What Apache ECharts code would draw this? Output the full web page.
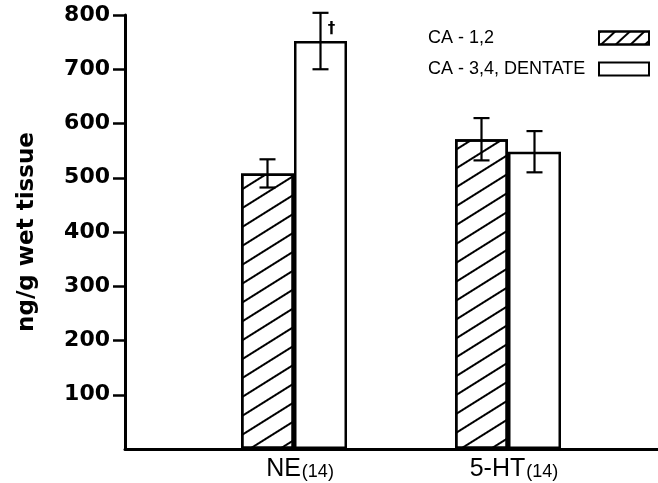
<!DOCTYPE html>
<html>
<head>
<meta charset="utf-8">
<script src="https://cdn.jsdelivr.net/npm/echarts@6/dist/echarts.min.js"></script>
<style>html,body{margin:0;padding:0;background:#fff;}#c{width:658px;height:483px;}</style>
</head>
<body>
<div id="c"></div>
<script>
const categories = ['NE', '5-HT'];
const nCounts = [14, 14];
const seriesNames = ['CA - 1,2', 'CA - 3,4, DENTATE'];
const ca12Mean = [508, 571];
const ca12Err = [26, 39];
const ca34Mean = [752, 548];
const ca34Err = [52, 38];
const ca34Marks = ['\u2020', ''];
const yTicks = [100, 200, 300, 400, 500, 600, 700, 800];
const yAxisName = 'ng/g wet tissue';

const BAR_W = 53;
const hatch = {
  symbol: 'rect', symbolSize: 1, color: '#000', backgroundColor: 'rgba(0,0,0,0)',
  dashArrayX: [1, 0], dashArrayY: [1.8, 14], rotation: -0.56
};
const legendHatch = {
  symbol: 'rect', symbolSize: 1, color: '#000', backgroundColor: 'rgba(0,0,0,0)',
  dashArrayX: [1, 0], dashArrayY: [1.8, 7.5], rotation: -0.75
};

function errRender(offset, marks) {
  return function (params, api) {
    const i = api.value(0), m = api.value(1), e = api.value(2);
    const t = api.coord([i, m + e]);
    const b = api.coord([i, m - e]);
    const x = t[0] + offset;
    const cap = 8;
    const st = { stroke: '#000', lineWidth: 2.2 };
    const children = [
      { type: 'line', shape: { x1: x, y1: t[1], x2: x, y2: b[1] }, style: st },
      { type: 'line', shape: { x1: x - cap, y1: t[1], x2: x + cap, y2: t[1] }, style: st },
      { type: 'line', shape: { x1: x - cap, y1: b[1], x2: x + cap, y2: b[1] }, style: st }
    ];
    const mk = marks ? marks[params.dataIndex] : '';
    if (mk) {
      children.push({ type: 'text', style: { text: mk, x: x + 11, y: t[1] + 16, fill: '#000',
        font: 'bold 15px "DejaVu Sans"', align: 'center', verticalAlign: 'middle' } });
    }
    return { type: 'group', children };
  };
}

const chart = echarts.init(document.getElementById('c'), null, { renderer: 'canvas' });
chart.setOption({
  animation: false,
  backgroundColor: '#fff',
  grid: [
    { left: 125, right: 0, top: 15, bottom: 34 },
    { left: 187, right: 43, top: 15, bottom: 34 }
  ],
  legend: {
    orient: 'vertical', left: 423, top: 24, align: 'right',
    itemWidth: 50, itemHeight: 13, itemGap: 13,
    icon: 'rect',
    formatter: function (name) { return '{t|' + name + '}'; },
    textStyle: { color: '#000',
      rich: { t: { fontFamily: 'Liberation Sans', fontSize: 18, color: '#000', width: 166, align: 'left', lineHeight: 20 } } },
    data: [
      { name: seriesNames[0], itemStyle: { decal: legendHatch } },
      { name: seriesNames[1] }
    ]
  },
  xAxis: [
    { gridIndex: 0, type: 'value', min: 0, max: 1,
      axisLine: { show: true, lineStyle: { color: '#000', width: 3 } },
      axisTick: { show: false }, axisLabel: { show: false }, splitLine: { show: false } },
    { gridIndex: 1, type: 'category', data: categories,
      axisLine: { show: false }, axisTick: { show: false },
      axisLabel: { margin: 8, color: '#000', padding: [0, 0, 0, 12],
        formatter: function (v, idx) { return '{a|' + v + '}{b|(' + nCounts[idx] + ')}'; },
        rich: {
          a: { fontFamily: 'Liberation Sans', fontSize: 25, color: '#000' },
          b: { fontFamily: 'Liberation Sans', fontSize: 18, color: '#000', padding: [5, 0, 0, 1] }
        } } }
  ],
  yAxis: [
    { gridIndex: 0, type: 'value', min: 0, max: 800, interval: 100,
      name: yAxisName, nameLocation: 'middle', nameGap: 86, nameRotate: 90,
      nameTextStyle: { fontFamily: 'DejaVu Sans', fontWeight: 'bold', fontSize: 23, color: '#000' },
      axisLine: { show: true, lineStyle: { color: '#000', width: 3 } },
      axisTick: { show: true, length: 12, lineStyle: { color: '#000', width: 2.5 }, customValues: yTicks },
      axisLabel: { margin: 15, color: '#000', fontFamily: 'DejaVu Sans', fontWeight: 'bold', fontSize: 22,
        customValues: yTicks },
      splitLine: { show: false } },
    { gridIndex: 1, type: 'value', min: 0, max: 800, show: false, splitLine: { show: false } }
  ],
  series: [
    { name: seriesNames[0], type: 'bar', xAxisIndex: 1, yAxisIndex: 1, data: ca12Mean,
      barWidth: BAR_W, barGap: '0%',
      itemStyle: { color: '#fff', borderColor: '#000', borderWidth: 2.5, decal: hatch } },
    { name: seriesNames[1], type: 'bar', xAxisIndex: 1, yAxisIndex: 1, data: ca34Mean,
      barWidth: BAR_W, barGap: '0%',
      itemStyle: { color: '#fff', borderColor: '#000', borderWidth: 2.5 } },
    { type: 'custom', xAxisIndex: 1, yAxisIndex: 1, z: 10,
      renderItem: errRender(-BAR_W / 2, null),
      data: ca12Mean.map((m, i) => [i, m, ca12Err[i]]) },
    { type: 'custom', xAxisIndex: 1, yAxisIndex: 1, z: 10,
      renderItem: errRender(BAR_W / 2, ca34Marks),
      data: ca34Mean.map((m, i) => [i, m, ca34Err[i]]) }
  ]
});
</script>
</body>
</html>
